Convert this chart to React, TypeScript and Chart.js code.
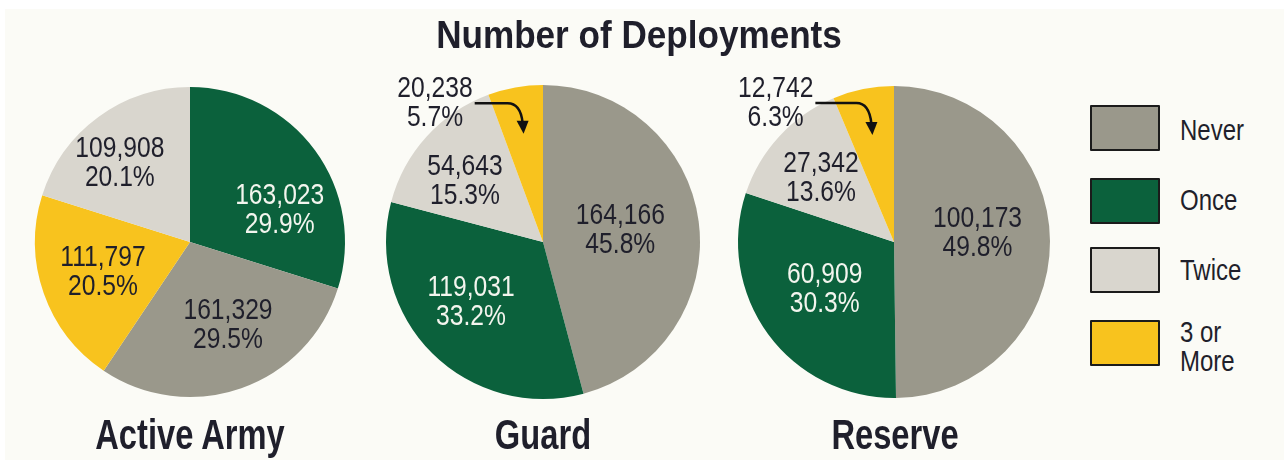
import React, { useEffect, useRef } from "react";
import { Chart, registerables } from "chart.js";

Chart.register(...registerables);

// ---- Data ----
const legendCategories = ["Never", "Once", "Twice", "3 or More"];

const activeCategories = ["Once", "Never", "3 or More", "Twice"];
const activeCounts = [163023, 161329, 111797, 109908];
const activePercents = [29.9, 29.5, 20.5, 20.1];

const guardCategories = ["Never", "Once", "Twice", "3 or More"];
const guardCounts = [164166, 119031, 54643, 20238];
const guardPercents = [45.8, 33.2, 15.3, 5.7];

const reserveCategories = ["Never", "Once", "Twice", "3 or More"];
const reserveCounts = [100173, 60909, 27342, 12742];
const reservePercents = [49.8, 30.3, 13.6, 6.3];

const chartTitles = ["Active Army", "Guard", "Reserve"];
const mainTitle = "Number of Deployments";

// ---- Styles ----
const colorOf: Record<string, string> = {
  Never: "#9a988b",
  Once: "#0b613c",
  Twice: "#d9d6ce",
  "3 or More": "#f8c31e",
};
const TEXT_DARK = "#1f1f2b";
const TEXT_LIGHT = "#f3f5ee";
const FONT = '"Liberation Sans", Arial, sans-serif';

// label placement: [angle in degrees clockwise from top, fraction of radius, hasArrow]
const activeLabelPlacement: [number, number, boolean][] = [
  [69, 0.62, false],
  [155, 0.58, false],
  [252, 0.59, false],
  [319, 0.69, false],
];
const guardLabelPlacement: [number, number, boolean][] = [
  [80, 0.5, false],
  [231, 0.59, false],
  [309, 0.64, false],
  [322.5, 1.13, true],
];
const reserveLabelPlacement: [number, number, boolean][] = [
  [82.5, 0.54, false],
  [237, 0.53, false],
  [312, 0.63, false],
  [320, 1.18, true],
];

// canvas frames: left, width, and pie padding (top,bottom,left,right)
const frames = [
  { left: 0, width: 380, pad: { top: 87, bottom: 63, left: 35, right: 35 } },
  { left: 370, width: 346, pad: { top: 85, bottom: 61, left: 16, right: 16 } },
  { left: 720, width: 348, pad: { top: 86, bottom: 62, left: 18, right: 18 } },
];
const titleCenters = [190, 543, 895];

const sliceLabelPlugin = {
  id: "sliceLabels",
  afterDatasetsDraw(chart: any, _args: any, opts: any) {
    const { ctx } = chart;
    const meta = chart.getDatasetMeta(0);
    const ds = chart.data.datasets[0];
    const placement: [number, number, boolean][] = opts.placement;
    const percents: number[] = opts.percents;
    const cats: string[] = chart.data.labels;
    const fs = 29;
    const sx = 0.85;
    meta.data.forEach((arc: any, i: number) => {
      const [deg, frac, arrow] = placement[i];
      const R = arc.outerRadius;
      const a = (deg * Math.PI) / 180;
      const ax = arc.x + Math.sin(a) * frac * R;
      const ay = arc.y - Math.cos(a) * frac * R;
      const line1 = Number(ds.data[i]).toLocaleString("en-US");
      const line2 = percents[i].toFixed(1) + "%";
      const color = cats[i] === "Once" && !arrow ? TEXT_LIGHT : TEXT_DARK;
      ctx.save();
      ctx.font = `${fs}px ${FONT}`;
      ctx.fillStyle = color;
      ctx.textAlign = "center";
      ctx.textBaseline = "alphabetic";
      const drawLine = (t: string, cy: number) => {
        ctx.save();
        ctx.translate(ax, cy + 10.5);
        ctx.scale(sx, 1);
        ctx.fillText(t, 0, 0);
        ctx.restore();
      };
      drawLine(line1, ay - 14.5);
      drawLine(line2, ay + 14.5);
      if (arrow) {
        const w = ctx.measureText(line1).width * sx;
        const sxp = ax + w / 2 + 2;
        const syp = ay + 2;
        const mid = (arc.startAngle + arc.endAngle) / 2;
        const tx = arc.x + Math.cos(mid) * 0.7 * R;
        const ty = arc.y + Math.sin(mid) * 0.7 * R;
        ctx.strokeStyle = "#111";
        ctx.lineWidth = 2.5;
        ctx.beginPath();
        ctx.moveTo(sxp, syp);
        ctx.lineTo(tx - 16, syp);
        ctx.quadraticCurveTo(tx - 3, syp, tx - 1, ty - 11);
        ctx.stroke();
        ctx.fillStyle = "#111";
        ctx.beginPath();
        ctx.moveTo(tx, ty);
        ctx.lineTo(tx - 7, ty - 13);
        ctx.lineTo(tx + 5, ty - 13);
        ctx.closePath();
        ctx.fill();
      }
      ctx.restore();
    });
  },
};

const chartSpecs = [
  { cats: activeCategories, counts: activeCounts, pcts: activePercents, place: activeLabelPlacement },
  { cats: guardCategories, counts: guardCounts, pcts: guardPercents, place: guardLabelPlacement },
  { cats: reserveCategories, counts: reserveCounts, pcts: reservePercents, place: reserveLabelPlacement },
];

export default function App() {
  const refs = [useRef<HTMLCanvasElement>(null), useRef<HTMLCanvasElement>(null), useRef<HTMLCanvasElement>(null)];

  useEffect(() => {
    const charts: Chart[] = [];
    chartSpecs.forEach((spec, k) => {
      const el = refs[k].current;
      if (!el) return;
      const c = new Chart(el, {
        type: "pie",
        data: {
          labels: spec.cats,
          datasets: [
            {
              data: spec.counts,
              backgroundColor: spec.cats.map((c) => colorOf[c]),
              borderWidth: 0,
            },
          ],
        },
        options: {
          responsive: false,
          animation: false,
          layout: { padding: frames[k].pad },
          plugins: {
            legend: { display: false },
            tooltip: { enabled: false },
            title: { display: false },
            sliceLabels: { placement: spec.place, percents: spec.pcts },
          } as any,
        },
        plugins: [sliceLabelPlugin],
      });
      charts.push(c);
    });
    return () => charts.forEach((c) => c.destroy());
  }, []);

  const textBase: React.CSSProperties = {
    position: "absolute",
    fontFamily: FONT,
    whiteSpace: "nowrap",
    color: TEXT_DARK,
  };

  const legendTops = [105, 178, 247, 320];
  const legendTextCenters = [130, 200, 270, 332];

  return (
    <div style={{ position: "fixed", left: 0, top: 0, width: 1284, height: 460, background: "#ffffff", overflow: "hidden" }}>
      <div style={{ position: "absolute", left: 5, top: 9, right: 0, bottom: 0, background: "#fbfbf6" }} />
      {frames.map((f, k) => (
        <canvas
          key={k}
          ref={refs[k]}
          width={f.width}
          height={460}
          style={{ position: "absolute", left: f.left, top: 0, width: f.width, height: 460 }}
        />
      ))}
      <div
        style={{
          ...textBase,
          left: 639 - 300,
          width: 600,
          textAlign: "center",
          top: 34 - 0.49 * 39,
          fontSize: 39,
          lineHeight: "39px",
          fontWeight: 700,
          transform: "scaleX(0.9)",
          transformOrigin: "center",
        }}
      >
        {mainTitle}
      </div>
      {chartTitles.map((t, k) => (
        <div
          key={t}
          style={{
            ...textBase,
            left: titleCenters[k] - 200,
            width: 400,
            textAlign: "center",
            top: 434 - 0.49 * 43,
            fontSize: 43,
            lineHeight: "43px",
            fontWeight: 700,
            transform: "scaleX(0.76)",
            transformOrigin: "center",
          }}
        >
          {t}
        </div>
      ))}
      {legendCategories.map((c, i) => (
        <React.Fragment key={c}>
          <div
            style={{
              position: "absolute",
              left: 1090,
              top: legendTops[i],
              width: 66,
              height: 42,
              background: colorOf[c],
              border: "2px solid #1b1b1b",
              borderRadius: 1,
            }}
          />
          {(c === "3 or More" ? ["3 or", "More"] : [c]).map((line, j) => (
            <div
              key={line}
              style={{
                ...textBase,
                left: 1180,
                top: legendTextCenters[i] + j * 29 - 0.49 * 30,
                fontSize: 30,
                lineHeight: "30px",
                transform: "scaleX(0.8)",
                transformOrigin: "left",
              }}
            >
              {line}
            </div>
          ))}
        </React.Fragment>
      ))}
    </div>
  );
}
